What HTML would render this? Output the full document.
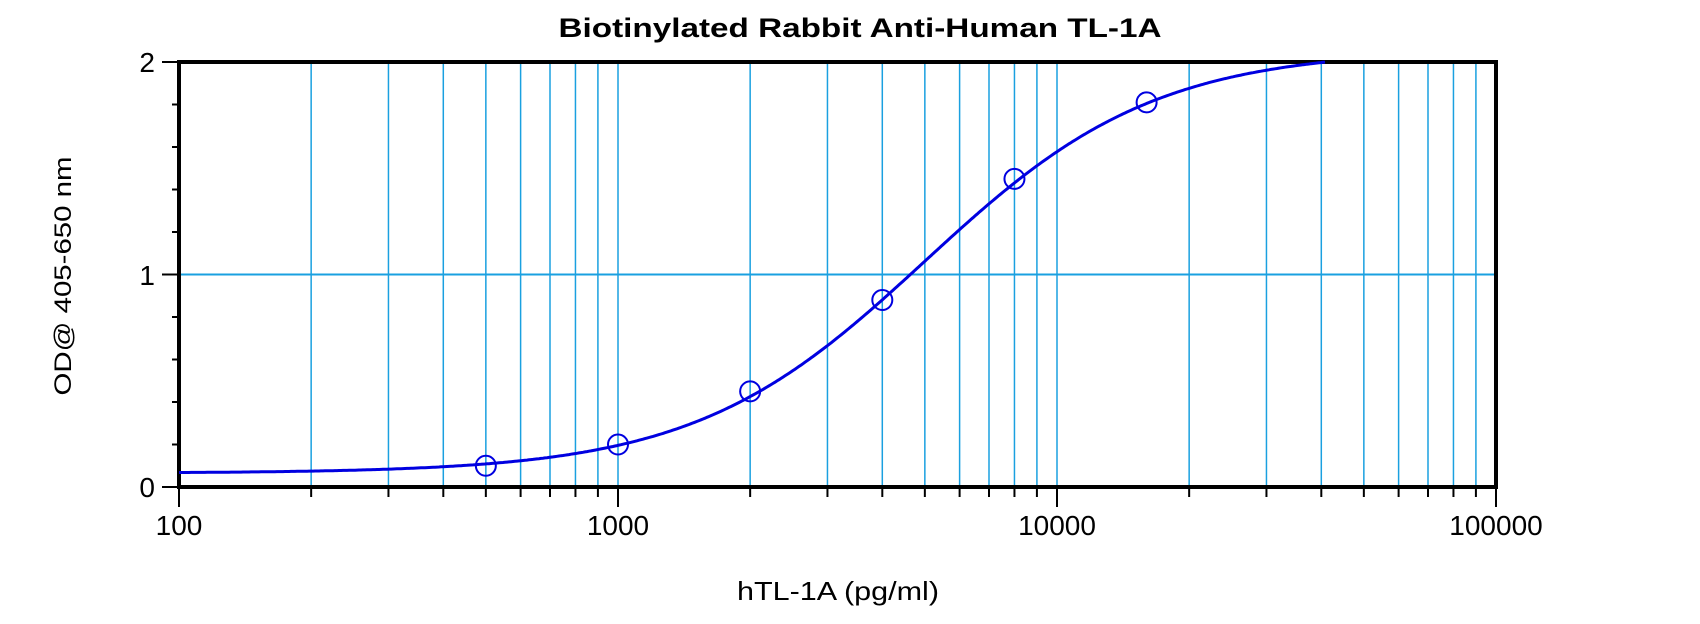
<!DOCTYPE html>
<html><head><meta charset="utf-8"><style>
html,body{margin:0;padding:0;background:#fff;}
svg{display:block;font-family:"Liberation Sans",Arial,sans-serif;}
</style></head><body>
<svg id="s" width="1700" height="624" viewBox="0 0 1700 624" xmlns="http://www.w3.org/2000/svg">
<text x="860" y="37" text-anchor="middle" font-size="27" font-weight="bold" textLength="603" lengthAdjust="spacingAndGlyphs">Biotinylated Rabbit Anti-Human TL-1A</text>
<g id="grid"></g>
<g id="ticks" stroke="#000" stroke-width="2"></g>
<rect x="179" y="62" width="1317" height="425" fill="none" stroke="#000" stroke-width="4"/>
<path id="curve" fill="none" stroke="#0000e0" stroke-width="3"/>
<g id="pts" fill="none" stroke="#0000e0" stroke-width="2"></g>
<g font-size="28" text-anchor="middle">
<text x="179" y="535">100</text>
<text x="618" y="535">1000</text>
<text x="1057" y="535">10000</text>
<text x="1496" y="535">100000</text>
</g>
<g font-size="28" text-anchor="end">
<text x="155" y="497">0</text>
<text x="155" y="285">1</text>
<text x="155" y="72">2</text>
</g>
<text x="838" y="600" text-anchor="middle" font-size="26" textLength="202" lengthAdjust="spacingAndGlyphs">hTL-1A (pg/ml)</text>
<text transform="translate(71,276) rotate(-90)" text-anchor="middle" font-size="24" textLength="239" lengthAdjust="spacingAndGlyphs">OD@ 405-650 nm</text>
</svg>
<script>
var ns="http://www.w3.org/2000/svg";
function el(p,t,a){var e=document.createElementNS(ns,t);for(var k in a)e.setAttribute(k,a[k]);p.appendChild(e);return e;}
var L=179,R=1496,T=62,B=487,D=(R-L)/3;
function X(v){return L+(Math.log10(v)-2)*D;}
function Y(v){return B-v*(B-T)/2;}
var g=document.getElementById('grid'),tk=document.getElementById('ticks');
for(var d=2;d<5;d++)for(var m=1;m<10;m++){var x=X(m*Math.pow(10,d));
 if(!(d==2&&m==1))el(g,'line',{x1:x,y1:T,x2:x,y2:B,stroke:'#1aa0e0','stroke-width':1.5});
 el(tk,'line',{x1:x,y1:B,x2:x,y2:B+(m==1?20:10)});}
el(tk,'line',{x1:R,y1:B,x2:R,y2:B+20});
el(g,'line',{x1:L,y1:Y(1),x2:R,y2:Y(1),stroke:'#1aa0e0','stroke-width':2});
for(var i=0;i<=10;i++){var y=Y(i*0.2);el(tk,'line',{x1:L-(i%5==0?17:7),y1:y,x2:L,y2:y});}
function f(x){return 2.06+(0.065-2.06)/(1+Math.pow(x/5000,1.65));}
var p='';for(var px=L;px<=R;px+=2){var v=f(Math.pow(10,2+(px-L)/D));if(v>2)break;p+=(p?'L':'M')+px.toFixed(1)+','+Y(v).toFixed(1);}
document.getElementById('curve').setAttribute('d',p);
var pts=[[500,0.10],[1000,0.20],[2000,0.45],[4000,0.88],[8000,1.45],[16000,1.81]];
var pg=document.getElementById('pts');
pts.forEach(function(q){el(pg,'ellipse',{cx:X(q[0]),cy:Y(q[1]),rx:10,ry:10});});
</script>
</body></html>
